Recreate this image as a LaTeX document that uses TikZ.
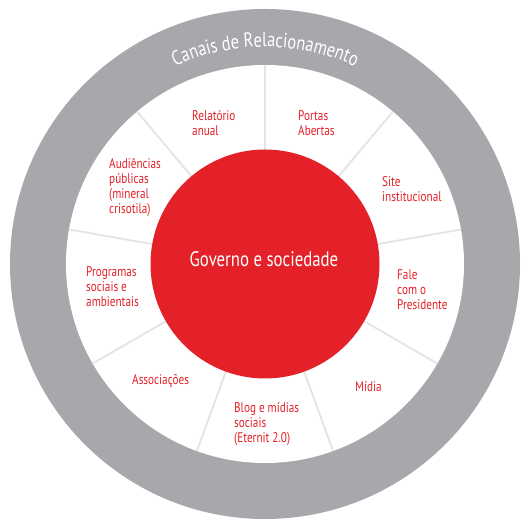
\documentclass[tikz,border=0pt]{standalone}
\usepackage{fontspec}
\setmainfont{PT Sans}[FakeStretch=0.8]
\usetikzlibrary{decorations.text}
\definecolor{ringgray}{HTML}{A7A8AB}
\definecolor{corered}{HTML}{E42128}
\definecolor{sepgray}{HTML}{E4E4E5}
\begin{document}
\begin{tikzpicture}[x=1pt,y=1pt,
  lbl/.style={anchor=base west, align=left, inner sep=0pt, text=corered, font=\fontsize{14}{14.8}\selectfont},
  sep/.style={sepgray, line width=1.8pt}]
\useasboundingbox (0,0) rectangle (529,529);
\fill[white] (0,0) rectangle (529,529);
\coordinate (c) at (265,265);
\fill[ringgray] (c) circle[radius=255];
\fill[white] (c) circle[radius=199];
\foreach \a in {90,50,...,-230}
  \draw[sep] (c) ++(\a:110) -- ++(\a:89);
\node[circle, fill=corered, minimum size=229pt, inner sep=0pt] (core) at (c) {};
\node[anchor=base, text=white, inner sep=0pt, font=\fontsize{21}{24}\selectfont] (gov) at (264,262) {Governo e sociedade};
\path[decorate, decoration={text along path, text align=center, text color=white,
  text={|\fontsize{20.5}{24}\selectfont|Canais de Relacionamento}}]
  (c) ++(150:217) arc[start angle=150, end angle=30, radius=217];
\node[lbl] (rel) at (192,393.2) {Relatório\\anual};
\node[lbl] (por) at (298,393.2) {Portas\\Abertas};
\node[lbl] (sit) at (382,327.2) {Site\\institucional};
\node[lbl] (fal) at (397,219.4) {Fale\\com o\\Presidente};
\node[lbl] (mid) at (355,137) {Mídia};
\node[lbl] (blo) at (234,86.4) {Blog e mídias\\sociais\\(Eternit 2.0)};
\node[lbl] (ass) at (132,144) {Associações};
\node[lbl] (pro) at (86,222.4) {Programas\\sociais e\\ambientais};
\node[lbl] (aud) at (109,315.6) {Audiências\\públicas\\(mineral\\crisotila)};
\end{tikzpicture}
\end{document}
